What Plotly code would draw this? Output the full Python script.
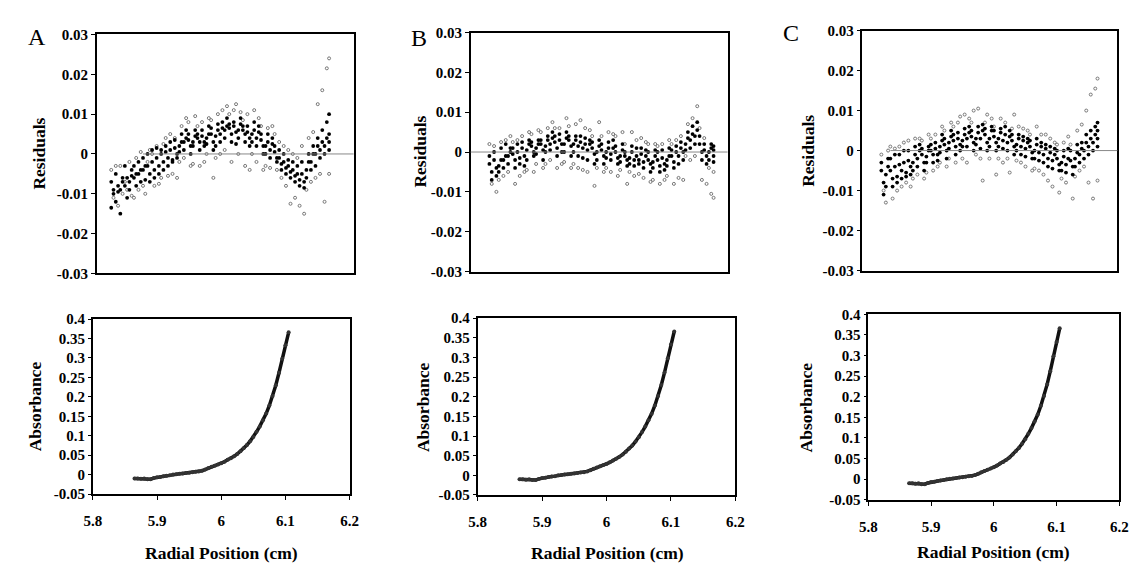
import plotly.graph_objects as go

# radial positions of the scan (cm), two interleaved sets of readings
RADIUS = [5.865, 5.870, 5.875, 5.880, 5.885, 5.890, 5.895, 5.900, 5.905, 5.910,
          5.915, 5.920, 5.925, 5.930, 5.935, 5.940, 5.945, 5.950, 5.955, 5.960,
          5.965, 5.970, 5.975, 5.980, 5.985, 5.990, 5.995, 6.000, 6.005, 6.010,
          6.015, 6.020, 6.025, 6.030, 6.035, 6.040, 6.045, 6.050, 6.055, 6.060,
          6.065, 6.070, 6.075, 6.080, 6.085, 6.090, 6.095, 6.100, 6.105]
RADIUS_MID = [5.8675, 5.8725, 5.8775, 5.8825, 5.8875, 5.8925, 5.8975, 5.9025, 5.9075, 5.9125,
              5.9175, 5.9225, 5.9275, 5.9325, 5.9375, 5.9425, 5.9475, 5.9525, 5.9575, 5.9625,
              5.9675, 5.9725, 5.9775, 5.9825, 5.9875, 5.9925, 5.9975, 6.0025, 6.0075, 6.0125,
              6.0175, 6.0225, 6.0275, 6.0325, 6.0375, 6.0425, 6.0475, 6.0525, 6.0575, 6.0625,
              6.0675, 6.0725, 6.0775, 6.0825, 6.0875, 6.0925, 6.0975, 6.1025, 6.1050]

ABSORBANCE = [-0.010, -0.010, -0.011, -0.010, -0.012, -0.012, -0.009, -0.007, -0.006, -0.004,
              -0.003, -0.002, 0.000, 0.001, 0.002, 0.003, 0.004, 0.005, 0.006, 0.007,
              0.008, 0.010, 0.013, 0.017, 0.020, 0.023, 0.026, 0.029, 0.033, 0.038,
              0.042, 0.047, 0.053, 0.060, 0.068, 0.076, 0.086, 0.097, 0.110, 0.124,
              0.140, 0.157, 0.178, 0.202, 0.230, 0.262, 0.298, 0.333, 0.366]

# residuals in units of 1e-3; per row: 3 readings at RADIUS, 3 at RADIUS_MID
RESID_A = [
    [-13.5, -9, -7, -10, -4, -11], [-12, -8, -5, -9.5, -3, -13], [-15, -7, -9, -6, -3, -10],
    [-8, -6, -3, -11, -7, -9], [-7, -4, -9, -5.5, -2, -10.5], [-6, -8, -3, -5, -11, -1],
    [-5, -7, -2, -4, -9, 0.5], [-4, -6.5, -1, -3, -8, -10], [-3, -5, 0, -7, -2, 1],
    [-2, -4, 1, -6, 0, -8], [-1, -3, 1.5, -5, 2, -7.5], [0, -2, 1, -4, -6, 2.5],
    [0.5, -1, 2, -3, 4, -5.5], [1, -1.5, 3, -2, 5, -5], [1.5, 0, 3.5, -1, 4, -6],
    [2, 3, 0.5, 5, -2, 7], [3, 4, 1, 6, -1, 9], [3.5, 2, 5, 0, 8, -3],
    [3, 4.5, 2, 6, -2.5, 9.5], [4, 3, 5, 1, 7, -3], [4.5, 3, 6, 2, 8, -2],
    [4, 5, 2.5, 7, 0, 9], [5, 3, 6.5, 1, 8.5, -6], [4.5, 6, 2, 7.5, -1, 10],
    [5, 6.5, 3, 8, 0, 11], [6, 7, 4, 9, 1, 12], [6.5, 5, 7.5, 3, 10, -2],
    [7, 5.5, 8, 2.5, 11, 12.5], [6, 7.5, 4, 9, 0, 10.5], [6, 5, 7, 3, 8.5, -3],
    [5.5, 4, 7, 2, 10, -4], [5, 6, 3, 8, 0, 11], [4, 5.5, 2, 7, -2, 9],
    [3.5, 2, 5, 0, 7, -4], [2, 3, 0, 5, -3, 6.5], [1, 2.5, -1, 4, -3.5, 7],
    [0.5, -1, 2, -2, 5, -4], [-1, -2.5, 1, -4, 3, -6], [-2, -3.5, 0, -5, 2, -8],
    [-3, -4.5, -1.5, -6, 1, -12.5], [-4, -5.5, -2, -7, 0, -11], [-5, -6.5, -3, -8, -1, -13],
    [-5, -7, -2, -8.5, 2, -15], [-4, -2, -6, 0, -9, 4], [-2, 0, -4, 2, -7, 5.5],
    [0, 2, -3, 4, -6, 12.5], [1, 3, -1, 6, -5, 16], [2, 4, 0, 8, -12, 21.5],
    [3, 5, 1, 10, -5, 24],
]

RESID_B = [
    [-3, -5, -1, -7, 2, -8], [-2, -4, 0, -6, 1.5, -10], [-3.5, -2, -5, 1, -7, 2.5],
    [-2, -1, -4, 2, -6, 3], [-1, 0, -3, 1, -5, 4], [-0.5, -2, 1, -4, 2.5, -8],
    [0, -1.5, 2, -3, 3, -6], [1, -1, 2.5, -3.5, 4, -5], [0.5, 2, -2, 3, -4.5, 5],
    [1.5, 0, 2.5, -1, 4.5, -5], [1, 2, -0.5, 3, -3, 5.5], [2, 0.5, 3, -2, 5, -4],
    [1.5, 3, 0, 4, -3, 6], [2, 3.5, 0.5, 5, -2, 7.5], [2.5, 1, 4, -1, 6, -4],
    [3, 2, 4.5, 0, 6, -3], [2, 3.5, 0, 5, -2.5, 8.5], [3, 1.5, 4, -1, 6.5, -4],
    [2, 3, 0, 4, -3, 7], [1.5, 2.5, -1, 4, -4, 8], [1, 2, -1.5, 3.5, -4.5, 6],
    [0.5, 2, -2, 3, -5, 5.5], [1, -0.5, 2.5, -3, 4, -8.5], [0, 1.5, -2, 3, -4, 7.5],
    [0.5, -1, 2, -3, 4, -5], [0, 1, -1.5, 2.5, -4, 5], [-0.5, 1, -2, 3, -5, 4.5],
    [0, -1.5, 1.5, -3, 4, -6], [-1, 0.5, -2.5, 2, -4.5, 5], [-1, -2, 0, -3.5, 2, -8],
    [-1.5, 0, -3, 1.5, -5, 5], [-2, -1, -3.5, 1, -6, 3], [-2, -0.5, -3, 1, -5.5, 3.5],
    [-2.5, -1, -4, 0.5, -6.5, 2.5], [-2, -3, 0, -5, 2, -7.5], [-2.5, -1, -4, 0.5, -7, 2],
    [-2, -3.5, 0, -5, 1.5, -8], [-1.5, -3, 0.5, -4.5, 2, -7], [-2, -1, -3.5, 1, -6, 3],
    [-1, -2.5, 0.5, -4, 2, -8], [0, -1, 1.5, -3, 3, -6.5], [1, 0, 2.5, -2, 4, -7],
    [2, 3.5, 0.5, 5, -1, 7], [3, 4.5, 1, 6.5, -2, 8.5], [4, 5.5, 2, 7.5, -1, 11.5],
    [2, 0, 4, -2, 6, -7], [0.5, -1, 2, -3, 3.5, -8], [0, 1, -2, 2, -4, -10.5],
    [-1, 0.5, -2.5, 1.5, -5, -11.5],
]

RESID_C = [
    [-5, -8, -3, -11, -1, -10], [-6, -4, -9, -2, -13, 0], [-5, -7, -2, -9, 1, -12],
    [-4, -6.5, -1, -8, 0.5, -10], [-3.5, -5, -1, -7, 1, -9], [-3, -5.5, 0, -6.5, 2, -8],
    [-2.5, -4, 0, -6, 2.5, -9], [-3, -1, -5, 1, -7, 3], [-2, 0, -4, 1.5, -6, 3],
    [-1, -3, 0.5, -5, 2.5, -7], [-1.5, 0, -3, 1, -5.5, 4], [0, -1, 1.5, -3, 3, -5],
    [0.5, -1, 2, -2.5, 4, -4], [1, 2.5, -0.5, 4, -3, 6], [1.5, 0, 3, -2, 5, -4],
    [2, 3.5, 0.5, 5, -2, 7], [2.5, 1, 4, -1, 6, -3], [3, 1.5, 4.5, 0, 7, 8.5],
    [2.5, 4, 1, 5.5, -2, 9], [3, 4.5, 1, 6, -3, 8], [3.5, 2, 5, 0, 7, 10],
    [3, 4.5, 1.5, 6, -1, 10.5], [3, 5, 0.5, 6.5, -2, -7.5], [4, 2, 5.5, 0, 7, 9],
    [3, 5, 1, 6, -2, 8], [3.5, 2, 5, 0, 6, -6], [3, 4.5, 1, 5.5, -2, 8],
    [2.5, 4, 0.5, 6, -3, 7], [2, 3.5, 0, 5, -2, -5.5], [2.5, 1, 4, -1, 5.5, 9],
    [1.5, 3, 0, 4, -2.5, 6], [1, 2.5, -1, 3.5, -3, 5.5], [0.5, 2, -1.5, 3, -4, 5],
    [1, -0.5, 2.5, -2, 4, -5], [0, 1.5, -2, 3, -4.5, 6], [-0.5, 1, -2.5, 2, -5, 4],
    [-1, 0.5, -3, 1.5, -6, 4], [-2, -0.5, -4, 1, -7.5, 3], [-2.5, -1, -4.5, 0.5, -9, 2],
    [-2, -3.5, 0, -5, 1.5, -10.5], [-3, -1.5, -5, 0, -7, 2], [-3.5, -2, -5.5, 0.5, -8, 3.5],
    [-2.5, -4, 0, -6, 1.5, -12], [-2, -0.5, -4, 1.5, -6.5, 5], [-1, 0.5, -3, 2, -5, 6.5],
    [0, 2, -2, 4, -4, 10], [1, 3, -1, 5, -8, 14], [2, 4, 0, 6, -12, 15.5],
    [3, 5, 1, 7, -7.5, 18],
]

PANEL_LABELS = ["A", "B", "C"]

RES_TICKS = [-0.03, -0.02, -0.01, 0, 0.01, 0.02, 0.03]
RES_TICK_TEXT = ["-0.03", "-0.02", "-0.01", "0", "0.01", "0.02", "0.03"]
ABS_TICKS = [-0.05, 0, 0.05, 0.1, 0.15, 0.2, 0.25, 0.3, 0.35, 0.4]
ABS_TICK_TEXT = ["-0.05", "0", "0.05", "0.1", "0.15", "0.2", "0.25", "0.3", "0.35", "0.4"]
X_TICKS = [5.8, 5.9, 6.0, 6.1, 6.2]
X_TICK_TEXT = ["5.8", "5.9", "6", "6.1", "6.2"]

W, H = 1139, 563
SERIF = "Liberation Serif"

# pixel boxes (left, right, top, bottom) of each plot area
TOP_BOX = [(81, 342, 19, 265), (461, 722, 17, 263), (859, 1118, 15, 262)]
BOTTOM_BOX = [(77, 338, 312, 492), (468, 730, 311, 493), (865, 1120, 307, 498)]
TOP_XRANGE = [[5.849, 6.132], [5.845, 6.120], [5.844, 6.127]]
ZERO_LINE_START = [0.18, 0.0, 0.11]
RES_TITLE_X = [22, 409, 803]
ABS_TITLE_X = [18, 412, 802]
RADIAL_TITLE = [(208, 553), (600, 553), (992, 552)]
LETTER_POS = [(20, 22), (408, 23), (786, 17)]


def dom_x(a, b):
    return [a / W, b / W]


def dom_y(top, bottom):
    return [1 - bottom / H, 1 - top / H]


tick_font = dict(family=SERIF, size=15, color="black", weight=700)
title_font = dict(family=SERIF, size=17.5, color="black", weight=700)

fig = go.Figure()
layout = {}
annotations = []
shapes = []

for p, resid in enumerate([RESID_A, RESID_B, RESID_C]):
    n_top = p + 1
    n_bot = p + 4
    xs_f, ys_f, xs_o, ys_o = [], [], [], []
    for r, rm, row in zip(RADIUS, RADIUS_MID, resid):
        for k, v in enumerate(row):
            x = r if k % 2 == 0 else rm
            if k < 4:
                xs_f.append(x)
                ys_f.append(v / 1000)
            else:
                xs_o.append(x)
                ys_o.append(v / 1000)

    xa_top = 'x' if n_top == 1 else f'x{n_top}'
    ya_top = 'y' if n_top == 1 else f'y{n_top}'
    fig.add_trace(go.Scatter(
        x=xs_o, y=ys_o, mode='markers', xaxis=xa_top, yaxis=ya_top,
        marker=dict(symbol='circle-open', size=3, color='#777777', line=dict(width=1)),
        showlegend=False, hoverinfo='skip'
    ))
    fig.add_trace(go.Scatter(
        x=xs_f, y=ys_f, mode='markers', xaxis=xa_top, yaxis=ya_top,
        marker=dict(size=3.8, color='black'),
        showlegend=False, hoverinfo='skip'
    ))
    fig.add_trace(go.Scatter(
        x=RADIUS, y=ABSORBANCE, mode='lines+markers',
        xaxis=f'x{n_bot}', yaxis=f'y{n_bot}',
        line=dict(color='#111111', width=3.5),
        marker=dict(size=4, color='#333333'),
        showlegend=False, hoverinfo='skip'
    ))

    l, r_, t, b = TOP_BOX[p]
    key_x = 'xaxis' if n_top == 1 else f'xaxis{n_top}'
    key_y = 'yaxis' if n_top == 1 else f'yaxis{n_top}'
    layout[key_x] = dict(
        domain=dom_x(l, r_), range=TOP_XRANGE[p], anchor=ya_top,
        showline=True, mirror=True, linecolor='black', linewidth=1.5,
        showgrid=False, zeroline=False, showticklabels=False, ticks=''
    )
    layout[key_y] = dict(
        domain=dom_y(t, b), range=[-0.03, 0.03], anchor=xa_top,
        showline=True, mirror=True, linecolor='black', linewidth=1.5,
        showgrid=False, zeroline=False,
        tickmode='array', tickvals=RES_TICKS, ticktext=RES_TICK_TEXT,
        ticks='outside', ticklen=4, tickcolor='black', tickfont=tick_font
    )
    shapes.append(dict(
        type='line', xref=f'{xa_top} domain', yref=ya_top,
        x0=ZERO_LINE_START[p], x1=1, y0=0, y1=0,
        line=dict(color='#888888', width=1)
    ))

    l, r_, t, b = BOTTOM_BOX[p]
    layout[f'xaxis{n_bot}'] = dict(
        domain=dom_x(l, r_), range=[5.8, 6.2], anchor=f'y{n_bot}',
        showline=True, mirror=True, linecolor='black', linewidth=1.5,
        showgrid=False, zeroline=False,
        tickmode='array', tickvals=X_TICKS, ticktext=X_TICK_TEXT,
        ticks='outside', ticklen=4, tickcolor='black', tickfont=tick_font,
        ticklabelstandoff=8
    )
    layout[f'yaxis{n_bot}'] = dict(
        domain=dom_y(t, b), range=[-0.05, 0.4], anchor=f'x{n_bot}',
        showline=True, mirror=True, linecolor='black', linewidth=1.5,
        showgrid=False, zeroline=False,
        tickmode='array', tickvals=ABS_TICKS, ticktext=ABS_TICK_TEXT,
        ticks='outside', ticklen=3, tickcolor='black', tickfont=tick_font
    )

    # axis titles and panel letters
    top_mid = (TOP_BOX[p][2] + TOP_BOX[p][3]) / 2
    bot_mid = (BOTTOM_BOX[p][2] + BOTTOM_BOX[p][3]) / 2
    annotations.append(dict(
        text='Residuals', x=RES_TITLE_X[p] / W, y=1 - top_mid / H,
        xref='paper', yref='paper', showarrow=False, textangle=-90,
        font=title_font, xanchor='center', yanchor='middle'
    ))
    annotations.append(dict(
        text='Absorbance', x=ABS_TITLE_X[p] / W, y=1 - bot_mid / H,
        xref='paper', yref='paper', showarrow=False, textangle=-90,
        font=title_font, xanchor='center', yanchor='middle'
    ))
    annotations.append(dict(
        text='Radial Position (cm)', x=RADIAL_TITLE[p][0] / W, y=1 - RADIAL_TITLE[p][1] / H,
        xref='paper', yref='paper', showarrow=False,
        font=title_font, xanchor='center', yanchor='middle'
    ))
    annotations.append(dict(
        text=PANEL_LABELS[p], x=LETTER_POS[p][0] / W, y=1 - LETTER_POS[p][1] / H,
        xref='paper', yref='paper', showarrow=False,
        font=dict(family=SERIF, size=24, color='black'),
        xanchor='center', yanchor='middle'
    ))

fig.update_layout(
    width=W, height=H,
    margin=dict(l=0, r=0, t=0, b=0),
    plot_bgcolor='white',
    paper_bgcolor='white',
    showlegend=False,
    annotations=annotations,
    shapes=shapes,
    **layout
)

fig.write_html("out.html")
